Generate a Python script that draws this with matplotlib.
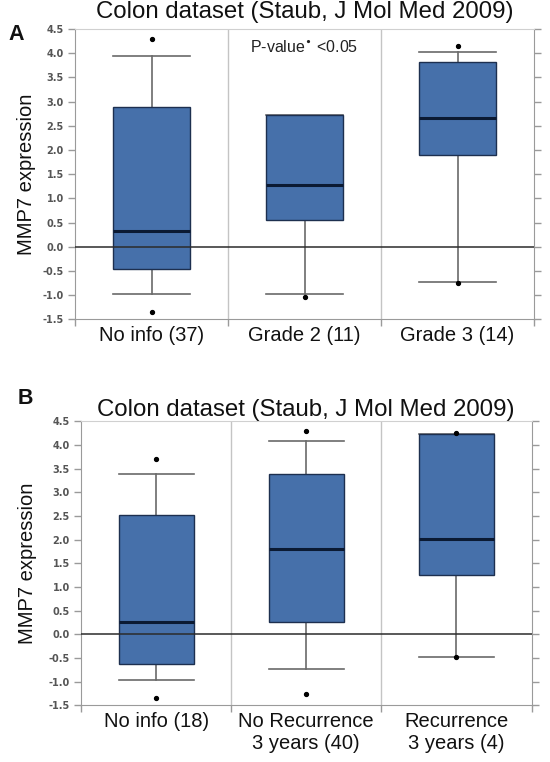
"""
MMP7 expression box plots, colon dataset (Staub, J Mol Med 2009)
"""
import matplotlib
matplotlib.use('Agg')
import matplotlib.pyplot as plt
import numpy as np

plt.rcParams['font.family'] = ['Liberation Sans', 'DejaVu Sans']
plt.rcParams['axes.unicode_minus'] = False

title = 'Colon dataset (Staub, J Mol Med 2009)'

# Panel A - by tumour grade
grade_labels = ['No info (37)', 'Grade 2 (11)', 'Grade 3 (14)']
grade_whislo = [-0.97, -0.97, -0.72]
grade_q1 = [-0.47, 0.55, 1.89]
grade_med = [0.32, 1.28, 2.67]
grade_q3 = [2.88, 2.72, 3.81]
grade_whishi = [3.95, 2.72, 4.03]
grade_fliers = [[4.30, -1.34], [-1.03], [4.14, -0.74]]

# Panel B - by recurrence within 3 years
rec_labels = ['No info (18)', 'No Recurrence\n3 years (40)', 'Recurrence\n3 years (4)']
rec_whislo = [-0.96, -0.74, -0.47]
rec_q1 = [-0.63, 0.26, 1.25]
rec_med = [0.25, 1.80, 2.02]
rec_q3 = [2.53, 3.38, 4.23]
rec_whishi = [3.39, 4.08, 4.23]
rec_fliers = [[3.70, -1.34], [4.30, -1.26], [4.25, -0.47]]

yticks = np.arange(-1.5, 4.51, 0.5)

colors = {
    'box': '#4670aa',
    'edge': '#1d2f4f',
    'median': '#0b1a33',
    'whisker': '#6a6a6a',
    'grid': '#c4c4c4',
    'spine': '#9a9a9a',
    'ticklabel': '#555555',
}

W, H = 550, 762
fig = plt.figure(figsize=(W / 100, H / 100), dpi=100)


def draw_panel(rect, labels, whislo, q1, med, q3, whishi, fliers):
    ax = fig.add_axes(rect)
    stats = []
    for i in range(len(labels)):
        stats.append(dict(whislo=whislo[i], q1=q1[i], med=med[i], q3=q3[i],
                          whishi=whishi[i], fliers=fliers[i]))
    ax.bxp(stats, positions=range(len(labels)), widths=0.5, capwidths=0.5,
           patch_artist=True, showfliers=True,
           boxprops=dict(facecolor=colors['box'], edgecolor=colors['edge'],
                         linewidth=1.0, zorder=2),
           medianprops=dict(color=colors['median'], linewidth=2.2, zorder=3),
           whiskerprops=dict(color=colors['whisker'], linewidth=1.2, zorder=1.5),
           capprops=dict(color=colors['whisker'], linewidth=1.2, zorder=1.5),
           flierprops=dict(marker='o', markersize=2.8, markerfacecolor='black',
                           markeredgecolor='black', zorder=5))
    ax.set_xlim(-0.5, 2.5)
    ax.set_ylim(-1.5, 4.5)

    # separators and zero line
    for xv in [0.5, 1.5]:
        ax.axvline(xv, color=colors['grid'], linewidth=1.0, zorder=0)
    ax.axhline(0, color='#2b2b2b', linewidth=1.1, zorder=4)

    ax.set_yticks(yticks)
    ax.set_yticklabels(['%.1f' % v for v in yticks])
    ax.tick_params(axis='y', left=True, right=True, length=5, width=1,
                   color=colors['spine'], labelsize=7, labelcolor=colors['ticklabel'], pad=3)
    for lab in ax.get_yticklabels():
        lab.set_family('DejaVu Sans')
        lab.set_fontweight('bold')

    ax.set_xticks(range(len(labels)))
    ax.set_xticklabels(labels)
    ax.set_xticks([-0.5, 0.5, 1.5, 2.5], minor=True)
    ax.tick_params(axis='x', which='major', length=0, labelsize=14.5, pad=5, labelcolor='#111111')
    ax.tick_params(axis='x', which='minor', length=5, width=1, color=colors['spine'])

    for side in ['left', 'right', 'bottom']:
        ax.spines[side].set_color(colors['spine'])
    ax.spines['top'].set_color('#d0d0d0')
    return ax


# Panel A
axA = draw_panel([75 / W, 1 - 319.3 / H, 459 / W, 290.3 / H],
                 grade_labels, grade_whislo, grade_q1, grade_med,
                 grade_q3, grade_whishi, grade_fliers)
axA.text(1.0, 4.12, r'P-value$^{\bullet}$ <0.05', ha='center', va='center',
         fontsize=11.5, color='#222222')
fig.text(304.5 / W, 1 - 12 / H, title, ha='center', va='center', fontsize=17.3, color='#111111')
fig.text(16 / W, 1 - 35 / H, 'A', ha='center', va='center', fontsize=15.5,
         fontweight='bold', color='#111111')
fig.text(27 / W, 1 - 174 / H, 'MMP7 expression', rotation=90, ha='center', va='center',
         fontsize=14.5, color='#111111')

# Panel B
axB = draw_panel([81 / W, 1 - 705.3 / H, 450.5 / W, 284 / H],
                 rec_labels, rec_whislo, rec_q1, rec_med,
                 rec_q3, rec_whishi, rec_fliers)
fig.text(306 / W, 1 - 410 / H, title, ha='center', va='center', fontsize=17.3, color='#111111')
fig.text(25 / W, 1 - 398 / H, 'B', ha='center', va='center', fontsize=15.5,
         fontweight='bold', color='#111111')
fig.text(28 / W, 1 - 563 / H, 'MMP7 expression', rotation=90, ha='center', va='center',
         fontsize=14.5, color='#111111')

plt.savefig('out.png', dpi=100, facecolor='white')
